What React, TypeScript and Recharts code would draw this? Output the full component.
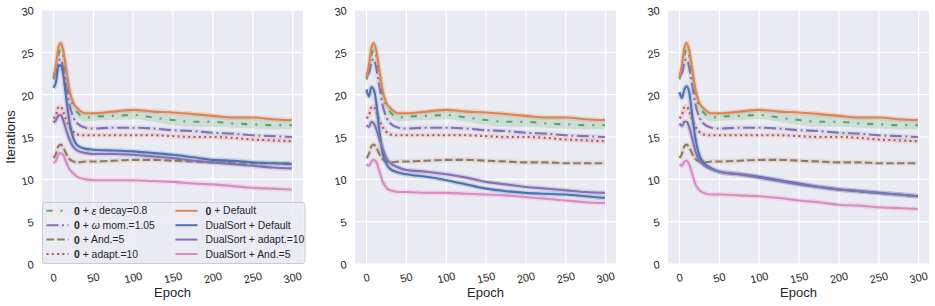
import React from 'react';
import { ComposedChart, Line, Area, XAxis, YAxis, CartesianGrid } from 'recharts';

// epochs sampled from the curves
const epochs = [0, 3, 6, 9, 12, 16, 20, 25, 30, 40, 50, 75, 100, 125, 150, 175, 200, 225, 250, 275, 299];

// "0 + ..." baseline runs (same in every panel)
const defaultRun = [22.0, 23.5, 25.5, 26.1, 25.3, 23.0, 20.6, 19.0, 18.4, 17.8, 17.8, 18.0, 18.2, 18.0, 17.9, 17.7, 17.5, 17.3, 17.3, 17.1, 17.0];
const epsDecay = [21.8, 23.0, 24.6, 25.4, 24.6, 22.4, 20.1, 18.6, 17.9, 17.3, 17.4, 17.5, 17.6, 17.3, 17.0, 16.8, 16.8, 16.6, 16.5, 16.4, 16.4];
const epsLo = [21.3, 22.4, 24.0, 24.8, 24.0, 21.8, 19.5, 18.0, 17.3, 16.8, 16.9, 17.0, 17.1, 16.8, 16.4, 16.2, 16.2, 16.1, 16.0, 15.9, 15.9];
const epsHi = [22.3, 23.6, 25.3, 26.0, 25.2, 23.0, 20.7, 19.1, 18.3, 17.8, 17.9, 18.0, 18.1, 17.9, 17.7, 17.5, 17.4, 17.2, 17.1, 17.0, 17.0];
const omegaMom = [22.5, 22.5, 23.8, 24.2, 23.2, 21.0, 18.8, 17.3, 16.6, 16.1, 16.0, 16.1, 16.1, 16.0, 15.8, 15.7, 15.5, 15.4, 15.2, 15.1, 15.0];
const andBase = [12.5, 13.0, 13.9, 14.1, 13.8, 13.0, 12.4, 12.1, 12.0, 12.1, 12.1, 12.2, 12.3, 12.3, 12.2, 12.1, 12.0, 12.0, 11.9, 11.9, 11.9];
const adaptBase = [17.2, 17.6, 18.5, 18.6, 18.0, 17.0, 16.2, 15.6, 15.3, 15.2, 15.2, 15.2, 15.2, 15.2, 15.1, 15.0, 15.0, 14.9, 14.7, 14.6, 14.5];

// DualSort runs, one array per panel
const dualDefaultA = [20.8, 21.5, 23.3, 23.5, 22.5, 19.5, 16.8, 14.8, 14.0, 13.6, 13.5, 13.4, 13.3, 13.1, 12.9, 12.6, 12.3, 12.2, 12.0, 11.9, 11.8];
const dualDefaultB = [20.6, 19.8, 20.9, 20.6, 19.2, 15.8, 13.2, 11.8, 11.2, 10.8, 10.6, 10.3, 9.9, 9.4, 8.9, 8.6, 8.4, 8.3, 8.2, 8.0, 7.8];
const dualDefaultC = [20.3, 19.6, 20.6, 21.0, 20.3, 17.5, 14.8, 12.8, 12.0, 11.3, 10.9, 10.6, 10.3, 9.9, 9.5, 9.1, 8.8, 8.6, 8.4, 8.2, 8.0];

const dualAdaptA = [16.7, 17.0, 17.5, 17.6, 17.0, 15.8, 14.7, 13.8, 13.4, 13.1, 13.0, 13.0, 12.9, 12.7, 12.5, 12.2, 12.0, 11.8, 11.6, 11.4, 11.3];
const dualAdaptB = [16.4, 16.2, 16.8, 16.6, 16.0, 14.8, 13.7, 12.5, 11.9, 11.4, 11.1, 10.9, 10.6, 10.2, 9.7, 9.4, 9.1, 8.9, 8.7, 8.5, 8.4];
const dualAdaptC = [16.6, 16.3, 16.8, 16.8, 16.2, 14.8, 13.3, 12.2, 11.7, 11.2, 10.9, 10.6, 10.2, 9.8, 9.4, 9.1, 8.8, 8.6, 8.4, 8.2, 8.0];

const dualAndA = [11.9, 12.2, 12.9, 13.1, 12.9, 12.0, 11.2, 10.7, 10.3, 10.0, 9.9, 9.9, 9.9, 9.8, 9.7, 9.5, 9.4, 9.2, 9.0, 8.9, 8.8];
const dualAndB = [11.8, 11.6, 12.1, 12.3, 12.1, 11.0, 9.8, 9.0, 8.7, 8.5, 8.5, 8.4, 8.4, 8.3, 8.2, 8.1, 7.9, 7.7, 7.5, 7.3, 7.2];
const dualAndC = [11.8, 11.6, 12.1, 12.2, 11.8, 10.6, 9.4, 8.7, 8.4, 8.2, 8.2, 8.1, 8.0, 7.8, 7.5, 7.3, 7.0, 6.9, 6.7, 6.6, 6.5];

const xTicks = [0, 50, 100, 150, 200, 250, 300];
const yTicks = [0, 5, 10, 15, 20, 25, 30];

const panels = [
  { dual: dualDefaultA, adapt: dualAdaptA, and: dualAndA },
  { dual: dualDefaultB, adapt: dualAdaptB, and: dualAndB },
  { dual: dualDefaultC, adapt: dualAdaptC, and: dualAndC },
];

const BLUE = '#4C72B0';
const ORANGE = '#DD8452';
const GREEN = '#55A868';
const RED = '#C44E52';
const PURPLE = '#8172B3';
const BROWN = '#937860';
const PINK = '#DA8BC3';
const TEXT = '#262626';
const FONT = '"Liberation Sans", Arial, sans-serif';

const series = [
  { key: 'eps', color: GREEN, dash: '6 8 2 8', halo: 0 },
  { key: 'omega', color: PURPLE, dash: '12 3.5 2 3.5', halo: 0.13 },
  { key: 'andB', color: BROWN, dash: '7.5 3.2', halo: 0.13 },
  { key: 'adaptB', color: RED, dash: '2 3.3', halo: 0.13 },
  { key: 'def', color: ORANGE, dash: undefined, halo: 0.22 },
  { key: 'dual', color: BLUE, dash: undefined, halo: 0.22 },
  { key: 'dualAdapt', color: PURPLE, dash: undefined, halo: 0.22 },
  { key: 'dualAnd', color: PINK, dash: undefined, halo: 0.2 },
];

function buildRows(p: { dual: number[]; adapt: number[]; and: number[] }) {
  return epochs.map((e, i) => ({
    epoch: e,
    def: defaultRun[i],
    eps: epsDecay[i],
    epsBand: [epsLo[i], epsHi[i]],
    omega: omegaMom[i],
    andB: andBase[i],
    adaptB: adaptBase[i],
    dual: p.dual[i],
    dualAdapt: p.adapt[i],
    dualAnd: p.and[i],
  }));
}

const XTick = ({ x, y, payload }: any) => (
  <text
    x={x}
    y={y + 13.5}
    transform={`rotate(-13 ${x} ${y + 13.5})`}
    textAnchor="middle"
    dominantBaseline="central"
    fontSize={11}
    fontFamily={FONT}
    fill={TEXT}
  >
    {payload.value}
  </text>
);

const YTick = ({ x, y, payload }: any) => (
  <text
    x={x - 8.5}
    y={y}
    transform={`rotate(-10 ${x - 8.5} ${y})`}
    textAnchor="end"
    dominantBaseline="central"
    fontSize={11}
    fontFamily={FONT}
    fill={TEXT}
  >
    {payload.value}
  </text>
);

function Panel({ rows }: { rows: any[] }) {
  return (
    <ComposedChart width={313} height={306} data={rows} margin={{ top: 10, right: 10, bottom: 0, left: 0 }}>
      <CartesianGrid fill="#EAEAF2" stroke="#ffffff" strokeWidth={1.2} horizontalValues={yTicks} verticalValues={xTicks} />
      <XAxis
        dataKey="epoch"
        type="number"
        domain={[-14.5, 313]}
        ticks={xTicks}
        height={42}
        axisLine={false}
        tickLine={false}
        tickSize={0}
        tickMargin={0}
        tick={<XTick />}
        interval={0}
        label={{ value: 'Epoch', position: 'insideBottom', offset: 9, fontSize: 13, fill: TEXT, fontFamily: FONT }}
      />
      <YAxis
        type="number"
        domain={[0, 30]}
        ticks={yTicks}
        width={42}
        axisLine={false}
        tickLine={false}
        tickSize={0}
        tickMargin={0}
        tick={<YTick />}
        interval={0}
      />
      <Area
        dataKey="epsBand"
        type="monotone"
        stroke="none"
        fill={GREEN}
        fillOpacity={0.2}
        isAnimationActive={false}
        activeDot={false}
      />
      {series.filter((s) => s.halo > 0).map((s) => (
        <Line
          key={s.key + '-halo'}
          dataKey={s.key}
          type="monotone"
          stroke={s.color}
          strokeOpacity={s.halo}
          strokeWidth={5}
          dot={false}
          activeDot={false}
          isAnimationActive={false}
        />
      ))}
      {series.map((s) => (
        <Line
          key={s.key}
          dataKey={s.key}
          type="monotone"
          stroke={s.color}
          strokeWidth={2.1}
          strokeDasharray={s.dash}
          dot={false}
          activeDot={false}
          isAnimationActive={false}
        />
      ))}
    </ComposedChart>
  );
}

const legendLeft = [
  { color: GREEN, dash: '6 8 2 8', label: <><tspan fontWeight="bold">0</tspan> + <tspan fontStyle="italic">ε</tspan> decay=0.8</> },
  { color: PURPLE, dash: '12 3.5 2 3.5', label: <><tspan fontWeight="bold">0</tspan> + <tspan fontStyle="italic">ω</tspan> mom.=1.05</> },
  { color: BROWN, dash: '7.5 3.2', label: <><tspan fontWeight="bold">0</tspan> + And.=5</> },
  { color: RED, dash: '2 3.3', label: <><tspan fontWeight="bold">0</tspan> + adapt.=10</> },
];
const legendRight = [
  { color: ORANGE, dash: undefined, label: <><tspan fontWeight="bold">0</tspan> + Default</> },
  { color: BLUE, dash: undefined, label: <>DualSort + Default</> },
  { color: PURPLE, dash: undefined, label: <>DualSort + adapt.=10</> },
  { color: PINK, dash: undefined, label: <>DualSort + And.=5</> },
];

function LegendBox() {
  const rowY = [8.8, 23.2, 37.6, 52];
  const col = (items: any[], hx: number, tx: number) =>
    items.map((it, i) => (
      <g key={i}>
        <line x1={hx} x2={hx + 22} y1={rowY[i]} y2={rowY[i]} stroke={it.color} strokeWidth={2} strokeDasharray={it.dash} />
        <text x={tx} y={rowY[i]} dominantBaseline="central" fontSize={10.4} fontFamily={FONT} fill={TEXT}>
          {it.label}
        </text>
      </g>
    ));
  return (
    <svg width={264} height={62} style={{ position: 'absolute', left: 41.5, top: 201.5 }}>
      <rect x={0.5} y={0.5} width={262.5} height={61} rx={3} fill="rgba(234,234,242,0.8)" stroke="#cccccc" />
      {col(legendLeft, 4.5, 32)}
      {col(legendRight, 133.5, 163.5)}
    </svg>
  );
}

export default function App() {
  return (
    <div style={{ position: 'absolute', left: 0, top: 0, width: 935, height: 306, background: '#ffffff', fontFamily: FONT }}>
      {panels.map((p, i) => (
        <div key={i} style={{ position: 'absolute', left: i * 313, top: 0 }}>
          <Panel rows={buildRows(p)} />
        </div>
      ))}
      <svg width={20} height={306} style={{ position: 'absolute', left: 0, top: 0 }}>
        <text
          x={14.5}
          y={137}
          transform="rotate(-90 14.5 137)"
          textAnchor="middle"
          fontSize={13}
          fontFamily={FONT}
          fill={TEXT}
        >
          Iterations
        </text>
      </svg>
      <LegendBox />
    </div>
  );
}
